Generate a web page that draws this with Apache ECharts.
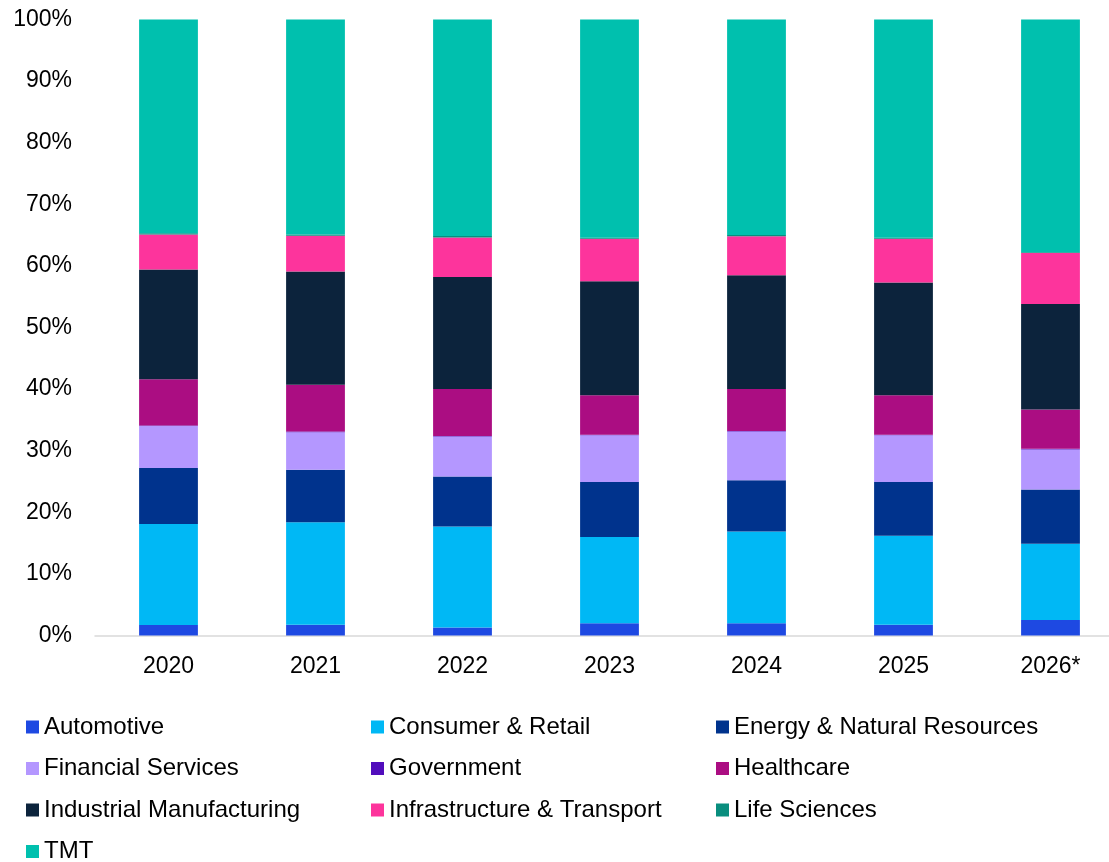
<!DOCTYPE html>
<html>
<head>
<meta charset="utf-8">
<script src="https://cdn.jsdelivr.net/npm/echarts@6/dist/echarts.min.js"></script>
<style>
html,body{margin:0;padding:0;background:#fff;}
#c{width:1109px;height:862px;}
</style>
</head>
<body>
<div id="c"></div>
<script>
const categories = ['2020','2021','2022','2023','2024','2025','2026*'];
const yTicks = [0,10,20,30,40,50,60,70,80,90,100];

const automotive   = [1.7, 1.75, 1.3, 2.0, 2.0, 1.75, 2.5];
const consumer     = [16.4, 16.65, 16.4, 14.0, 14.9, 14.45, 12.4];
const energy       = [9.1, 8.5, 8.1, 8.9, 8.3, 8.7, 8.8];
const financial    = [6.8, 6.1, 6.5, 7.6, 7.9, 7.6, 6.5];
const government   = [0.1, 0.1, 0.1, 0.1, 0.1, 0.1, 0.1];
const healthcare   = [7.5, 7.6, 7.6, 6.4, 6.8, 6.4, 6.4];
const industrial   = [17.8, 18.4, 18.2, 18.5, 18.5, 18.3, 17.1];
const infra        = [5.7, 5.8, 6.4, 6.9, 6.3, 7.1, 8.3];
const lifeSciences = [0.2, 0.2, 0.25, 0.15, 0.2, 0.15, 0.1];
const tmt          = [34.7, 34.9, 35.15, 35.45, 35.0, 35.45, 37.8];

const seriesDefs = [
  ['Automotive', automotive, '#1E49E2'],
  ['Consumer & Retail', consumer, '#00B8F5'],
  ['Energy & Natural Resources', energy, '#00338D'],
  ['Financial Services', financial, '#B497FF'],
  ['Government', government, '#510DBC'],
  ['Healthcare', healthcare, '#AB0D82'],
  ['Industrial Manufacturing', industrial, '#0C233C'],
  ['Infrastructure & Transport', infra, '#FD349C'],
  ['Life Sciences', lifeSciences, '#098E7E'],
  ['TMT', tmt, '#00C0AE']
];

const font = '"Liberation Sans", Arial, sans-serif';
const chart = echarts.init(document.getElementById('c'), null, {renderer:'canvas'});

const legendBase = {
  orient: 'vertical',
  top: 715,
  height: 160,
  padding: 0,
  itemWidth: 13,
  itemHeight: 13,
  itemGap: 17.5,
  icon: 'rect',
  selectedMode: false,
  textStyle: {fontFamily: font, fontSize: 24, color: '#000', lineHeight: 23}
};

const option = {
  backgroundColor: '#fff',
  animation: false,
  grid: {left: 95, right: -15, top: 19.5, bottom: 226.5, containLabel: false, outerBoundsMode: 'none'},
  legend: [
    Object.assign({}, legendBase, {left: 26, data: ['Automotive','Financial Services','Industrial Manufacturing','TMT']}),
    Object.assign({}, legendBase, {left: 371, data: ['Consumer & Retail','Government','Infrastructure & Transport']}),
    Object.assign({}, legendBase, {left: 716, data: ['Energy & Natural Resources','Healthcare','Life Sciences']})
  ],
  xAxis: {
    type: 'category',
    data: categories,
    axisLine: {lineStyle: {color: '#D9D9D9', width: 1.5}},
    axisTick: {show: false},
    axisLabel: {fontFamily: font, fontSize: 23, color: '#000', margin: 20}
  },
  yAxis: {
    type: 'value',
    min: 0, max: 100, interval: 10,
    splitLine: {show: false},
    axisLine: {show: false},
    axisTick: {show: false},
    axisLabel: {
      fontFamily: font, fontSize: 23, color: '#000', margin: 23,
      formatter: v => yTicks.includes(v) ? v + '%' : ''
    }
  },
  series: seriesDefs.map(([name, data, color]) => ({
    name: name,
    type: 'bar',
    stack: 'total',
    data: data,
    barWidth: '40%',
    itemStyle: {color: color},
    emphasis: {disabled: true}
  }))
};
chart.setOption(option);
</script>
</body>
</html>
